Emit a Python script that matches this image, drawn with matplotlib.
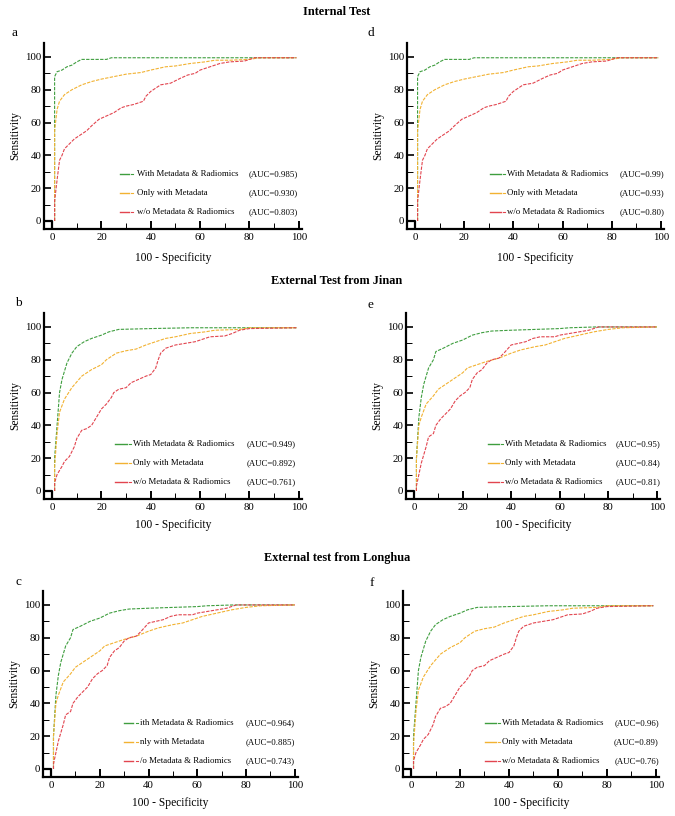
import matplotlib
matplotlib.use("Agg")
import matplotlib.pyplot as plt
import numpy as np

plt.rcParams['font.family'] = ['Liberation Serif', 'DejaVu Serif']

# ---------------- data ----------------
labels = ["With Metadata & Radiomics", "Only with Metadata", "w/o Metadata & Radiomics"]
labels_c = ["ith Metadata & Radiomics", "nly with Metadata", "/o Metadata & Radiomics"]

# Internal test curves (panels a, d)
int_green_x = [1, 1, 2, 4, 6, 8, 10, 12, 22, 24, 99]
int_green_y = [0, 88, 91, 92, 94, 95, 97, 98.5, 98.5, 99.5, 99.5]
int_orange_x = [1, 1, 2, 3, 5, 8, 12, 16, 20, 25, 30, 36, 40, 46, 50, 56, 62, 66, 72, 80, 84, 99]
int_orange_y = [0, 55, 68, 73, 77, 80, 83, 85, 86.5, 88, 89.5, 90.5, 92, 94, 94.5, 96, 97, 98, 98, 98.5, 99.5, 99.5]
int_red_x = [1, 1, 2, 3, 4, 5, 7, 9, 12, 14, 16, 19, 22, 25, 28, 30, 33, 37, 38, 40, 42, 44, 48, 52, 55, 58, 60, 64, 68, 72, 78, 82, 99]
int_red_y = [0, 12, 25, 37, 40, 44, 47, 50, 53, 55, 58, 62, 64, 66, 69, 70, 71, 73, 76, 79, 81, 83, 84, 87, 89, 90, 92, 94, 96, 97, 97.5, 99.5, 99.5]

# External test curves, set 1 (panels b, f)
ext1_green_x = [1, 1, 2, 3, 4, 6, 8, 10, 13, 16, 20, 23, 27, 40, 56, 99]
ext1_green_y = [0, 20, 40, 60, 68, 78, 84, 88, 91, 93, 95, 97, 98.5, 99, 99.5, 99.5]
ext1_orange_x = [1, 1, 2, 3, 5, 8, 12, 16, 20, 22, 26, 30, 34, 38, 42, 46, 50, 56, 62, 66, 76, 80, 99]
ext1_orange_y = [0, 15, 35, 48, 56, 63, 70, 74, 77, 80, 84, 85.5, 86.5, 89, 91, 93, 94, 96, 97, 98, 98.5, 99.5, 99.5]
ext1_red_x = [1, 1, 2, 4, 5, 7, 9, 10, 12, 14, 16, 18, 20, 22, 24, 25, 27, 30, 32, 35, 38, 40, 42, 43, 44, 46, 50, 54, 58, 60, 64, 70, 73, 76, 80, 99]
ext1_red_y = [0, 5, 10, 15, 18, 21, 27, 32, 37, 38, 40, 45, 50, 53, 57, 60, 62, 63, 66, 68, 70, 71, 75, 80, 84, 87, 89, 90, 91, 92, 94, 94.5, 96, 98, 99, 99.5]

# External test curves, set 2 (panels e, c)
ext2_green_x = [1, 1, 2, 3, 4, 5, 6, 8, 9, 12, 16, 20, 24, 28, 32, 40, 60, 64, 75, 100]
ext2_green_y = [0, 20, 45, 57, 65, 70, 75, 80, 85, 87, 90, 92, 95, 96.5, 97.5, 98, 99, 99.5, 100, 100]
ext2_orange_x = [1, 1, 2, 3, 5, 8, 10, 14, 18, 20, 22, 26, 30, 35, 40, 44, 50, 54, 58, 62, 68, 74, 80, 86, 100]
ext2_orange_y = [0, 20, 40, 45, 53, 58, 62, 66, 70, 72, 75, 77, 79, 81, 84, 86, 88, 89, 91, 93, 95, 97, 98.5, 99.5, 100]
ext2_red_x = [1, 1, 2, 3, 4, 5, 6, 8, 9, 11, 13, 15, 17, 19, 21, 23, 24, 26, 28, 30, 32, 35, 37, 40, 43, 46, 49, 52, 58, 60, 64, 68, 72, 76, 100]
ext2_red_y = [0, 3, 10, 17, 22, 27, 33, 35, 40, 44, 47, 50, 55, 58, 60, 63, 68, 72, 74, 78, 80, 81, 84, 89, 90, 91, 93, 94, 94, 95, 96, 97, 98, 100, 100]

auc_a = ["0.985", "0.930", "0.803"]
auc_d = ["0.99", "0.93", "0.80"]
auc_b = ["0.949", "0.892", "0.761"]
auc_e = ["0.95", "0.84", "0.81"]
auc_c = ["0.964", "0.885", "0.743"]
auc_f = ["0.96", "0.89", "0.76"]

section_titles = ["Internal Test", "External Test from Jinan", "External test from Longhua"]

colors = ["#3f9e3f", "#f2b232", "#e2454f"]

# ---------------- layout ----------------
W, H = 675, 816
fig = plt.figure(figsize=(W / 100, H / 100), dpi=100)

XLIM = (-3.3, 101.3)
YLIM = (-4.9, 108.5)

# (left, right, top, bottom) in pixels for each panel's axes box
panels = [
    dict(letter="a", box=(44, 302, 43, 229), curves="int", auc=auc_a, lab=labels,
         leg_x=(27.5, 32.8, 34.4), leg_r=99.6, leg_y=(28.7, 17.1, 5.5), letter_xy=(12, 33), xl_y=258),
    dict(letter="d", box=(407, 664, 43, 229), curves="int", auc=auc_d, lab=labels,
         leg_x=(30.6, 36.7, 37.5), leg_r=101.5, leg_y=(28.7, 17.1, 5.5), letter_xy=(368, 33), xl_y=258),
    dict(letter="b", box=(44, 302, 313, 499), curves="ext1", auc=auc_b, lab=labels,
         leg_x=(25.5, 32.0, 32.8), leg_r=98.6, leg_y=(28.7, 17.1, 5.5), letter_xy=(15, 303), xl_y=525),
    dict(letter="e", box=(406, 660, 313, 499), curves="ext2", auc=auc_e, lab=labels,
         leg_x=(30.5, 36.6, 37.4), leg_r=101.5, leg_y=(28.7, 17.1, 5.5), letter_xy=(368, 305), xl_y=525),
    dict(letter="c", box=(43, 298, 591, 777), curves="ext2", auc=auc_c, lab=labels_c,
         leg_x=(30.0, 35.5, 36.3), leg_r=100.0, leg_y=(27.9, 16.4, 4.8), letter_xy=(15, 582), xl_y=803),
    dict(letter="f", box=(403, 659, 591, 777), curves="ext1", auc=auc_f, lab=labels,
         leg_x=(30.2, 36.3, 37.1), leg_r=101.2, leg_y=(27.9, 16.4, 4.8), letter_xy=(370, 583), xl_y=803),
]

curve_sets = {
    "int": [(int_green_x, int_green_y), (int_orange_x, int_orange_y), (int_red_x, int_red_y)],
    "ext1": [(ext1_green_x, ext1_green_y), (ext1_orange_x, ext1_orange_y), (ext1_red_x, ext1_red_y)],
    "ext2": [(ext2_green_x, ext2_green_y), (ext2_orange_x, ext2_orange_y), (ext2_red_x, ext2_red_y)],
}

TICK_FS = 7.8
LAB_FS = 8.3
LEG_FS = 6.3

for p in panels:
    l, r, t, b = p["box"]
    ax = fig.add_axes([l / W, 1 - b / H, (r - l) / W, (b - t) / H])
    ax.set_xlim(*XLIM)
    ax.set_ylim(*YLIM)
    for (xs, ys), c in zip(curve_sets[p["curves"]], colors):
        ax.plot(xs, ys, color=c, lw=0.8, ls=(0, (3, 1.2)))
    # corner box
    ax.plot([XLIM[0], 0, 0], [0, 0, YLIM[0]], color="black", lw=1.6, solid_capstyle="butt", clip_on=False)
    for s in ["top", "right"]:
        ax.spines[s].set_visible(False)
    for s in ["left", "bottom"]:
        ax.spines[s].set_linewidth(1.6)
    ax.set_xticks(np.arange(0, 101, 20))
    ax.set_xticks(np.arange(10, 100, 20), minor=True)
    ax.set_yticks(np.arange(0, 101, 20))
    ax.set_yticks(np.arange(10, 100, 20), minor=True)
    ax.tick_params(axis="x", which="major", direction="in", length=6, width=1.4, pad=3, labelsize=TICK_FS)
    ax.tick_params(axis="x", which="minor", direction="in", length=4, width=0.7)
    ax.tick_params(axis="y", which="major", direction="in", length=5, width=1.2, pad=2, labelsize=TICK_FS)
    ax.tick_params(axis="y", which="minor", direction="in", length=4, width=0.7)
    ax.set_ylabel("Sensitivity", fontsize=LAB_FS, labelpad=3)
    # x label
    cx = (l + r) / 2 / W
    fig.text(cx, 1 - p["xl_y"] / H, "100 - Specificity", fontsize=LAB_FS, ha="center", va="center")
    # legend drawn in data coordinates
    hx0, hx1, tx = p["leg_x"]
    for yy, c, name, auc in zip(p["leg_y"], colors, p["lab"], p["auc"]):
        ax.plot([hx0, hx1 - 1.8], [yy, yy], color=c, lw=1.0, ls="-")
        ax.plot([hx1 - 0.8, hx1], [yy, yy], color=c, lw=0.8, ls="-")
        ax.text(tx, yy, name, fontsize=LEG_FS, ha="left", va="center")
        ax.text(p["leg_r"], yy, "(AUC=%s)" % auc, fontsize=LEG_FS, ha="right", va="center")
    lx, ly = p["letter_xy"]
    fig.text(lx / W, 1 - ly / H, p["letter"], fontsize=9.5, ha="left", va="center")

for title, y in zip(section_titles, [12, 281, 558]):
    fig.text(337 / W, 1 - y / H, title, fontsize=8.8, fontweight="bold", ha="center", va="center")

fig.savefig("out.png", dpi=100)
